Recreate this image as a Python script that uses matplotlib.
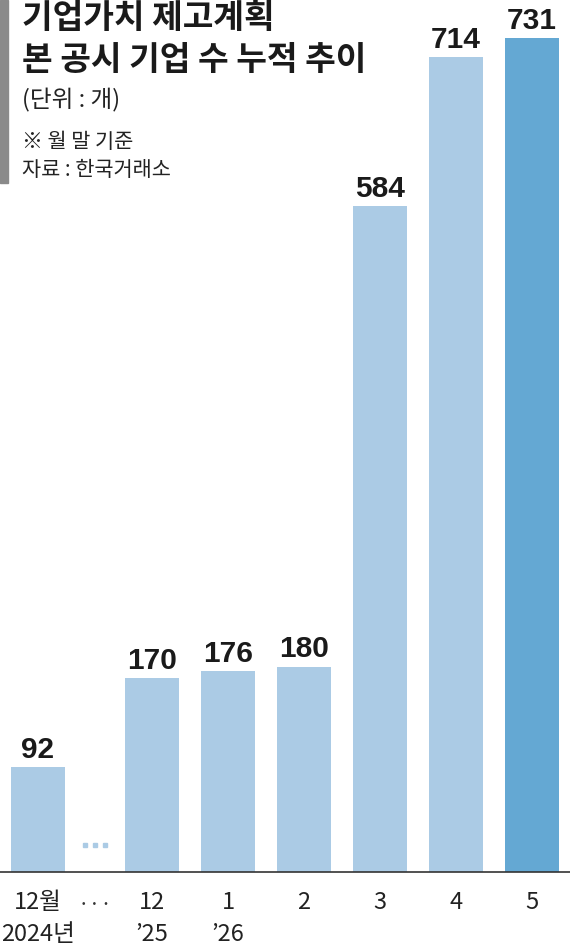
import numpy as np
import matplotlib
matplotlib.use("Agg")
import matplotlib.pyplot as plt

plt.rcParams['font.family'] = ['Noto Sans CJK KR', 'DejaVu Sans']

# data
months = ['12월\n2024년', '12\n’25', '1\n’26', '2', '3', '4', '5']
counts = [92, 170, 176, 180, 584, 714, 731]
# gap after the first bar (the "..." break)
xpos = [0, 1.5, 2.5, 3.5, 4.5, 5.5, 6.5]
gap_x = 0.75

light = '#abcbe5'
dark = '#64a8d3'
colors = [light] * (len(counts) - 1) + [dark]

fig = plt.figure(figsize=(5.7, 9.47), dpi=100)
H = 947
base = 872  # baseline pixel from top
ax = fig.add_axes([0, (H - base) / H, 1, base / H])
ax.set_xlim(-0.5, 7.0)
ax.set_ylim(0, base / 1.141)
ax.axis('off')

ax.bar(xpos, counts, width=0.72, color=colors, zorder=2)
ax.axhline(0, color='#333333', lw=1.2, zorder=3, clip_on=False)

# break dots inside the plot
ax.plot([gap_x - 0.13, gap_x, gap_x + 0.13], [24, 24, 24], ls='none',
        marker='s', ms=3.5, color=light)

num_font = ['Liberation Sans', 'DejaVu Sans']
for x, v in zip(xpos, counts):
    ax.text(x, v + 8, str(v), ha='center', va='baseline', fontsize=21.5,
            fontweight='bold', family=num_font, color='#1a1a1a')

# x labels
for x, lab in zip(xpos, months):
    ax.text(x, -17, lab, ha='center', va='top', fontsize=17,
            color='#222222', linespacing=1.5, clip_on=False,
            family=['Noto Sans CJK KR', 'DejaVu Sans'])
ax.text(gap_x, -19, '···', ha='center', va='top', fontsize=15,
        color='#333333', clip_on=False)

# title block
fig.patches.append(plt.Rectangle((0, 1 - 183 / H), 8 / 570, 183 / H,
                                 transform=fig.transFigure, color='#8a8a8a'))
fig.text(22 / 570, 1 - 2 / H, '기업가치 제고계획', ha='left', va='top',
         fontsize=24, fontweight='bold', color='#1a1a1a')
fig.text(22 / 570, 1 - 44 / H, '본 공시 기업 수 누적 추이', ha='left', va='top',
         fontsize=24, fontweight='bold', color='#1a1a1a')
fig.text(22 / 570, 1 - 88 / H, '(단위 : 개)', ha='left', va='top',
         fontsize=17, color='#222222')
fig.text(22 / 570, 1 - 131 / H, '※ 월 말 기준', ha='left', va='top',
         fontsize=15, color='#222222')
fig.text(22 / 570, 1 - 159 / H, '자료 : 한국거래소', ha='left', va='top',
         fontsize=15, color='#222222')

fig.savefig('out.png', dpi=100, facecolor='white')
